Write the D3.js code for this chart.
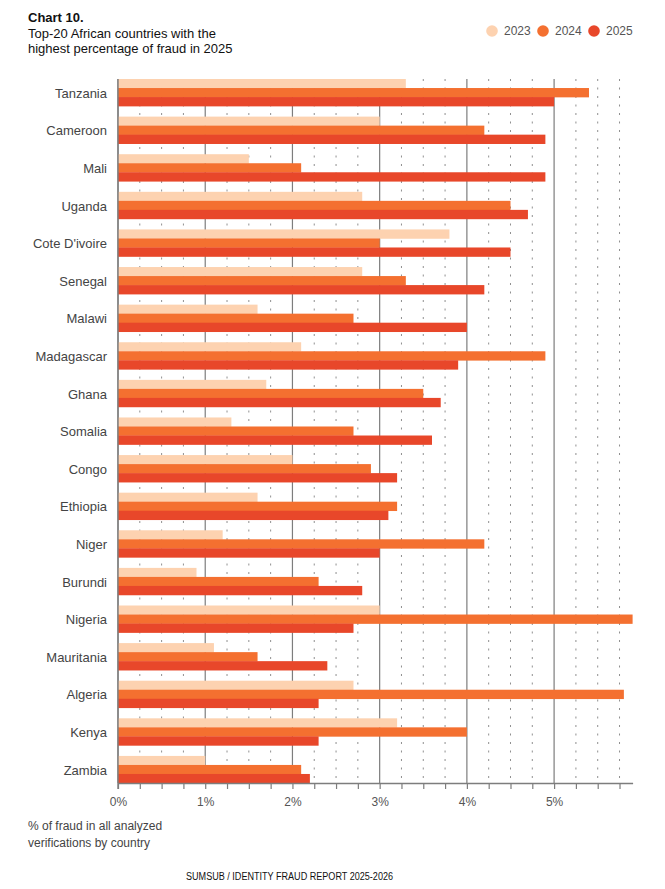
<!DOCTYPE html>
<html>
<head>
<meta charset="utf-8">
<script src="https://cdn.jsdelivr.net/npm/d3@7"></script>
<style>
  body { margin: 0; background: #fff; }
  svg { display: block; font-family: "Liberation Sans", Arial, sans-serif; }
</style>
</head>
<body>
<svg id="chart" width="665" height="889"></svg>
<script>
// data (% of fraud)
const countries = ['Tanzania','Cameroon','Mali','Uganda',"Cote D'ivoire",'Senegal','Malawi','Madagascar','Ghana','Somalia','Congo','Ethiopia','Niger','Burundi','Nigeria','Mauritania','Algeria','Kenya','Zambia']
const years = ['2023','2024','2025']
const v2023 = [3.3, 3.0, 1.5, 2.8, 3.8, 2.8, 1.6, 2.1, 1.7, 1.3, 2.0, 1.6, 1.2, 0.9, 3.0, 1.1, 2.7, 3.2, 1.0]
const v2024 = [5.4, 4.2, 2.1, 4.5, 3.0, 3.3, 2.7, 4.9, 3.5, 2.7, 2.9, 3.2, 4.2, 2.3, 5.9, 1.6, 5.8, 4.0, 2.1]
const v2025 = [5.0, 4.9, 4.9, 4.7, 4.5, 4.2, 4.0, 3.9, 3.7, 3.6, 3.2, 3.1, 3.0, 2.8, 2.7, 2.4, 2.3, 2.3, 2.2]
const xTicks = d3.range(0, 5.9, 0.25)

const colors = d3.scaleOrdinal().domain(years).range(['#FDD2B0','#F47030','#E8472A'])

const svg = d3.select('#chart')
const plotL = 118, plotR = 632.6, plotT = 79, plotB = 783

const x = d3.scaleLinear().domain([0, 5.9]).range([plotL, plotR])
const y = d3.scaleBand().domain(countries).range([plotT, plotB]).paddingInner(0.28).paddingOuter(0)
const ySub = d3.scaleBand().domain(years).range([0, y.bandwidth()])

const rows = countries.map((c, i) => ({country: c, vals: [v2023[i], v2024[i], v2025[i]]}))

// grid lines
const grid = svg.append('g')
grid.selectAll('line').data(xTicks).enter().append('line')
    .attr('x1', d => x(d)).attr('x2', d => x(d))
    .attr('y1', plotT).attr('y2', plotB)
    .attr('stroke', d => d % 1 === 0 ? '#7d7d7d' : '#8f8f8f')
    .attr('stroke-width', d => d % 1 === 0 ? 1.2 : 1)
    .attr('stroke-dasharray', d => d % 1 === 0 ? null : '2,6.5')

// bars
const groups = svg.append('g').selectAll('g').data(rows).enter().append('g')
    .attr('transform', d => `translate(0,${y(d.country)})`)
groups.selectAll('rect').data(d => d.vals.map((v, j) => ({year: years[j], v: v})))
    .enter().append('rect')
    .attr('x', x(0))
    .attr('y', d => ySub(d.year))
    .attr('width', d => x(d.v) - x(0))
    .attr('height', ySub.bandwidth() + 0.3)
    .attr('fill', d => colors(d.year))

// left base line
svg.append('line')
    .attr('x1', x(0)).attr('x2', x(0)).attr('y1', plotT).attr('y2', plotB + 6)
    .attr('stroke', '#7d7d7d').attr('stroke-width', 1.4)

// x axis
const xAxis = svg.append('g')
    .attr('transform', `translate(0,${plotB})`)
    .call(d3.axisBottom(x).tickValues(xTicks).tickSize(6).tickSizeOuter(0).tickPadding(8)
        .tickFormat(d => d % 1 === 0 ? d + '%' : ''))
xAxis.select('.domain').attr('stroke', '#7d7d7d').attr('stroke-width', 1.4)
xAxis.selectAll('.tick line').attr('stroke', '#7d7d7d').attr('stroke-width', 1.2)
xAxis.selectAll('.tick text').attr('fill', '#555').style('font-size', '12px')
    .style('font-family', '"Liberation Sans", Arial, sans-serif')

// y labels
const yAxis = svg.append('g')
    .attr('transform', `translate(${plotL},1)`)
    .call(d3.axisLeft(y).tickSize(0).tickPadding(11))
yAxis.select('.domain').remove()
yAxis.selectAll('.tick text').attr('fill', '#444').style('font-size', '13px')
    .style('font-family', '"Liberation Sans", Arial, sans-serif')

// title
const title = svg.append('text').attr('x', 28).attr('fill', '#111').style('font-size', '13px')
title.append('tspan').attr('x', 28).attr('y', 22).style('font-weight', 'bold').text('Chart 10.')
title.append('tspan').attr('x', 28).attr('y', 37.5).text('Top-20 African countries with the')
title.append('tspan').attr('x', 28).attr('y', 53).text('highest percentage of fraud in 2025')

// legend
const legendX = [492, 543, 594]
const legend = svg.append('g').selectAll('g').data(years).enter().append('g')
    .attr('transform', (d, i) => `translate(${legendX[i]},31)`)
legend.append('circle').attr('r', 5.8).attr('fill', d => colors(d))
legend.append('text').attr('x', 12).attr('y', 4.3).attr('fill', '#555')
    .style('font-size', '12px').text(d => d)

// axis note
const note = svg.append('text').attr('fill', '#444').style('font-size', '12px')
note.append('tspan').attr('x', 28).attr('y', 829.5).text('% of fraud in all analyzed')
note.append('tspan').attr('x', 28).attr('y', 846.5).text('verifications by country')

// footer
svg.append('text').attr('x', 186).attr('y', 879.5).attr('fill', '#111')
    .attr('textLength', 207).attr('lengthAdjust', 'spacingAndGlyphs')
    .style('font-size', '10px').text('SUMSUB / IDENTITY FRAUD REPORT 2025-2026')
</script>
</body>
</html>
